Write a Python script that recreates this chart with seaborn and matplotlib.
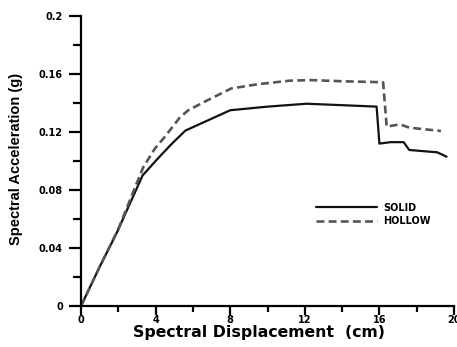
import numpy as np
import pandas as pd
import matplotlib
matplotlib.use("Agg")
import matplotlib.pyplot as plt
import seaborn as sns
from matplotlib.ticker import MultipleLocator

# Data

solid_x = [0, 1, 1.9, 3.3, 4.05, 4.8, 5.6, 6.8, 8.0, 10.0, 12.1, 14.0, 15.85,
           16.0, 16.6, 17.3, 17.6, 19.1, 19.6]
solid_y = [0, 0.027, 0.050, 0.090, 0.1007, 0.111, 0.121, 0.128, 0.135, 0.1375,
           0.1395, 0.1385, 0.1375, 0.112, 0.113, 0.113, 0.1076, 0.106, 0.103]

hollow_x = [0, 1, 2, 3, 3.35, 3.97, 4.5, 5.3, 5.75, 6.8, 8.05, 9.5, 11.2, 12.3,
            14.0, 16.2, 16.39, 17.1, 17.6, 19.3]
hollow_y = [0, 0.027, 0.053, 0.085, 0.096, 0.1087, 0.1168, 0.130, 0.135, 0.142,
            0.150, 0.153, 0.1554, 0.1558, 0.155, 0.1543, 0.1237, 0.1253, 0.123,
            0.1207]

x_ticks = [0, 4, 8, 12, 16, 20]
y_ticks = [0, 0.04, 0.08, 0.12, 0.16, 0.2]
y_tick_labels = ["0", "0.04", "0.08", "0.12", "0.16", "0.2"]

# Plot

sns.set_style("ticks")
plt.rcParams['font.family'] = ['DejaVu Sans']
plt.rcParams['text.color'] = 'black'
plt.rcParams['axes.labelcolor'] = 'black'
plt.rcParams['xtick.color'] = 'black'
plt.rcParams['ytick.color'] = 'black'

fig = plt.figure(figsize=(4.57, 3.47), dpi=100)
ax = fig.add_axes([81 / 457, 1 - 306 / 347, 373 / 457, 290 / 347])

sns.lineplot(x=solid_x, y=solid_y, ax=ax, sort=False, color="#111111",
             linewidth=1.6, label="SOLID")
sns.lineplot(x=hollow_x, y=hollow_y, ax=ax, sort=False, color="#555555",
             linewidth=1.9, dashes=False, label="HOLLOW")
ax.lines[1].set_dashes((3, 1.6))

ax.set_xlim(0, 20)
ax.set_ylim(0, 0.2)
ax.set_xticks(x_ticks)
ax.set_xticklabels([str(t) for t in x_ticks])
ax.set_yticks(y_ticks)
ax.set_yticklabels(y_tick_labels)
ax.xaxis.set_minor_locator(MultipleLocator(2))
ax.yaxis.set_minor_locator(MultipleLocator(0.02))

sns.despine(ax=ax)
for s in ["left", "bottom"]:
    ax.spines[s].set_linewidth(1.6)
    ax.spines[s].set_color("black")

ax.tick_params(axis="x", which="major", length=6.5, width=1.6, direction="out",
               labelsize=7, pad=0)
ax.tick_params(axis="x", which="minor", length=4, width=1.6, direction="out")
ax.tick_params(axis="y", which="major", length=9, width=1.6, direction="out",
               labelsize=7, pad=4)
ax.tick_params(axis="y", which="minor", length=6, width=1.6, direction="out")
for lab in ax.get_xticklabels() + ax.get_yticklabels():
    lab.set_fontweight("bold")

ax.set_xlabel("Spectral Displacement  (cm)", fontsize=11.3, fontweight="bold")
ax.xaxis.set_label_coords(0.477, -0.064)
ax.set_ylabel("Spectral Acceleration (g)", fontsize=10.5, fontweight="bold",
              family="Liberation Sans")
ax.yaxis.set_label_coords(-0.155, 0.507)

leg = ax.legend(loc="upper left", bbox_to_anchor=(0.63, 0.356), frameon=False,
                fontsize=7, handlelength=6.3, handletextpad=0.6,
                labelspacing=0.36, borderaxespad=0, borderpad=0)
for t in leg.get_texts():
    t.set_fontweight("bold")
    t.set_color("black")

fig.savefig("out.png", dpi=100)
